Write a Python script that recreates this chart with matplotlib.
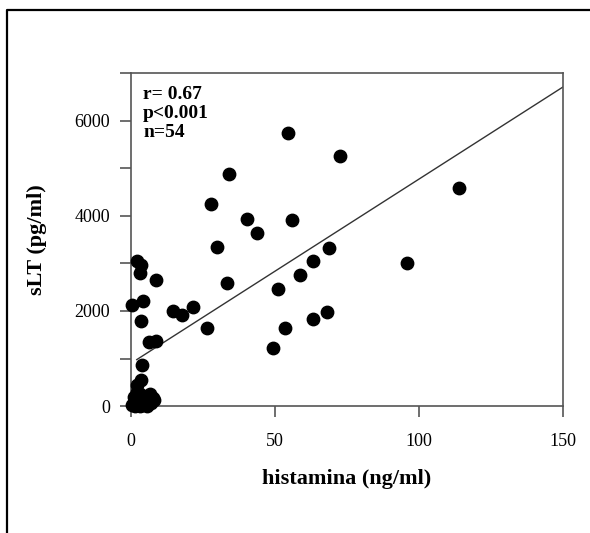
import matplotlib
matplotlib.use("Agg")
import matplotlib.pyplot as plt
from matplotlib.lines import Line2D
from matplotlib.ticker import MultipleLocator

plt.rcParams['font.family'] = ['Liberation Serif', 'DejaVu Serif']

# histamina (ng/ml) vs sLT (pg/ml)
hist = [54.5, 34, 27.8, 40.3, 55.9, 43.7, 72.6, 113.9, 68.8, 63.2,
        58.7, 95.8, 63.2, 68, 29.9, 33.2, 51, 53.5, 49.3, 26.4,
        21.5, 14.6, 17.7, 8.7,
        2.0, 3.4, 3.0, 0.2, 4.2, 3.5, 6.3, 8.7, 4.0, 3.6, 2.0,
        0.5, 1.0, 1.5, 2.0, 2.5, 3.0, 3.0, 3.5, 4.0, 4.5,
        5.0, 5.5, 6.0, 6.5, 7.0, 7.5, 8.0, 2.0, 1.0]
slt = [5743, 4884, 4255, 3940, 3920, 3647, 5261, 4590, 3333, 3040,
       2746, 3000, 1823, 1970, 3354, 2578, 2452, 1635, 1216, 1635,
       2075, 1991, 1907, 2641,
       3060, 2960, 2790, 2130, 2200, 1782, 1341, 1362, 860, 545, 440,
       20, 80, 0, 150, 50, 10, 250, 120, 30, 200,
       80, 0, 150, 250, 60, 180, 120, 300, 200]

# regression line
fit_x = [2, 150]
fit_y = [900 + 38.7 * 2, 900 + 38.7 * 150]

fig = plt.figure(figsize=(5.9, 5.33), dpi=100)
ax = fig.add_axes([0.222, 0.238, 0.732, 0.625])

ax.plot(fit_x, fit_y, color='#333333', lw=1.0, zorder=2)
ax.scatter(hist, slt, s=80, color='black', zorder=3, clip_on=False)

ax.set_xlim(0, 150)
ax.set_ylim(0, 7000)
ax.xaxis.set_major_locator(MultipleLocator(50))
ax.yaxis.set_major_locator(MultipleLocator(2000))
ax.yaxis.set_minor_locator(MultipleLocator(1000))

for s in ax.spines.values():
    s.set_color('#555555')
    s.set_linewidth(1.2)
ax.tick_params(axis='both', which='both', direction='out', color='#555555',
               width=1.2, length=8, labelsize=13)
ax.tick_params(axis='y', pad=7)
ax.tick_params(axis='x', pad=11)

ax.set_xlabel('histamina (ng/ml)', fontsize=16, fontweight='bold', labelpad=14)
ax.set_ylabel('sLT (pg/ml)', fontsize=16, fontweight='bold', labelpad=20)

ax.text(0.028, 0.96, 'r= 0.67\np<0.001\nn=54', transform=ax.transAxes,
        fontsize=14, fontweight='bold', va='top', ha='left', linespacing=1.15)

# outer frame (open to the right and bottom)
fig.add_artist(Line2D([7 / 590, 7 / 590, 1.0], [0.0, 1 - 10 / 533, 1 - 10 / 533],
                      transform=fig.transFigure, color='black', lw=1.6))

fig.savefig('out.png', dpi=100)
